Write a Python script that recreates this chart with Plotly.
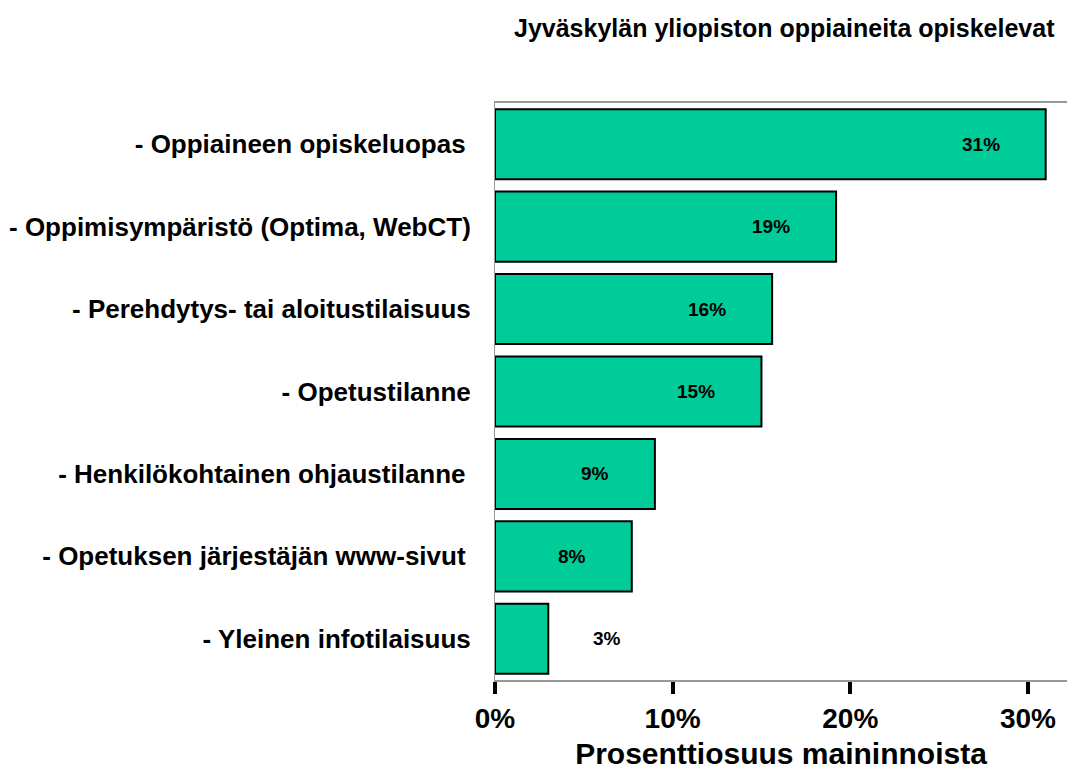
import plotly.graph_objects as go

categories = [
    "- Oppiaineen opiskeluopas\u2009",
    "- Oppimisympäristö (Optima, WebCT)",
    "- Perehdytys- tai aloitustilaisuus",
    "- Opetustilanne",
    "- Henkilökohtainen ohjaustilanne\u2009",
    "- Opetuksen järjestäjän www-sivut\u2009",
    "- Yleinen infotilaisuus",
]
values = [31.0, 19.2, 15.6, 15.0, 9.0, 7.7, 3.0]
value_labels = ["31%", "19%", "16%", "15%", "9%", "8%", "3%"]
tick_vals = [0, 10, 20, 30]
tick_text = ["0%", "10%", "20%", "30%"]

title_text = "Jyväskylän yliopiston oppiaineita opiskelevat"
x_title = "Prosenttiosuus maininnoista"

FONT = "Liberation Sans, Arial, sans-serif"

fig = go.Figure()
fig.add_trace(go.Bar(
    x=values,
    y=categories,
    orientation="h",
    marker=dict(color="#00CC99", line=dict(color="black", width=2)),
    hoverinfo="skip",
))

for v, c, t in zip(values, categories, value_labels):
    inside = v > 5
    fig.add_annotation(
        x=v, y=c, text="<b>%s</b>" % t, showarrow=False,
        xanchor="right" if inside else "left",
        xshift=-44 if inside else 43,
        font=dict(family=FONT, size=19, color="black"),
    )

fig.add_annotation(
    text="<b>%s</b>" % title_text, xref="paper", yref="paper",
    x=1, y=1, xanchor="right", yanchor="middle", yshift=75, xshift=-10,
    showarrow=False, font=dict(family=FONT, size=25, color="black"),
)

fig.update_layout(
    width=1067, height=770,
    margin=dict(l=495, r=0, t=103, b=90),
    paper_bgcolor="white", plot_bgcolor="white",
    showlegend=False,
    bargap=0.15,
    font=dict(family=FONT, color="black"),
    xaxis=dict(
        range=[0, 32.2], tickvals=tick_vals, ticktext=["<b>%s</b>" % t for t in tick_text],
        tickfont=dict(family=FONT, size=28, color="black"),
        showgrid=False, zeroline=False,
        showline=True, linecolor="#999999", linewidth=2, mirror=True,
        ticks="outside", ticklen=12, tickwidth=4, tickcolor="black",
        title=dict(text="<b>%s</b>" % x_title, font=dict(family=FONT, size=30, color="black"), standoff=10),
    ),
    yaxis=dict(
        categoryorder="array", categoryarray=categories, autorange="reversed",
        tickfont=dict(family=FONT, size=26, color="black"),
        ticktext=["<b>%s</b>" % c for c in categories], tickvals=categories,
        showgrid=False, zeroline=False,
        showline=True, linecolor="#999999", linewidth=1,
        ticks="outside", ticklen=18, tickcolor="rgba(0,0,0,0)",
    ),
)

fig.write_html(
    "out.html",
    config={"displayModeBar": False},
    post_script="document.body.style.margin='0';document.body.style.overflow='hidden';",
)
